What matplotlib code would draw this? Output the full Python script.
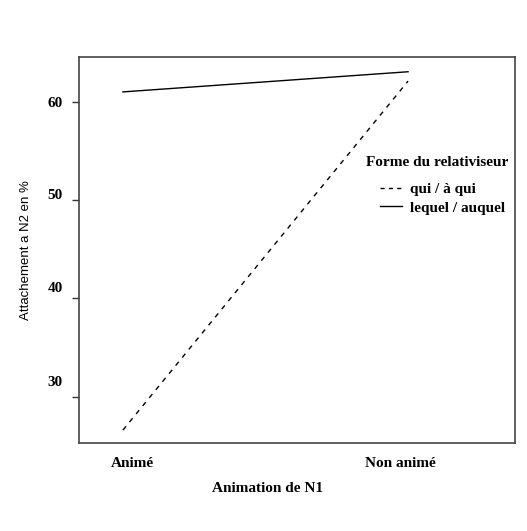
import matplotlib
matplotlib.use('Agg')
import matplotlib.pyplot as plt
import matplotlib.transforms as mtransforms
from matplotlib.lines import Line2D

# data
categories = ['Animé', 'Non animé']
qui = [26.6, 62.1]
lequel = [61.0, 63.05]
yticks = [30, 40, 50, 60]

serif = 'Liberation Serif'
W, H = 527, 531

fig = plt.figure(figsize=(W / 100, H / 100), dpi=100)
ax = fig.add_axes([79/W, 1 - 443/H, 436/W, 386/H])

x = [1, 2]
ax.plot(x, qui, color='black', linestyle=(0, (3.5, 4)), linewidth=1.0)
ax.plot(x, lequel, color='black', linestyle='-', linewidth=1.0)

ax.set_xlim(0.846, 2.375)
ax.set_ylim(25.29, 64.55)

ax.set_xticks(x)
ax.set_xticklabels(categories, fontfamily=serif, fontweight='bold', fontsize=11)
ax.tick_params(axis='x', length=0, pad=10)
# labels sit a little off their ticks in the original
for lab, dx in zip(ax.get_xticklabels(), [9, -8]):
    lab.set_transform(lab.get_transform() + mtransforms.ScaledTranslation(dx/100, 0, fig.dpi_scale_trans))

ax.set_yticks(yticks)
ax.set_yticklabels([str(t) for t in yticks], fontfamily=serif, fontweight='bold', fontsize=11)
ax.tick_params(axis='y', length=5, width=1, pad=6.5, color='#333333')
for lab, dy in zip(ax.get_yticklabels(), [16, 11, 6, 0]):
    lab.set_transform(lab.get_transform() + mtransforms.ScaledTranslation(0, dy/100, fig.dpi_scale_trans))

for s in ax.spines.values():
    s.set_color('#444444')
    s.set_linewidth(1.2)

ax.set_xlabel('Animation de N1', fontfamily=serif, fontweight='bold', fontsize=11)
ax.xaxis.set_label_coords((268 - 79) / 436, -(488 - 443) / 386)
ax.xaxis.label.set_va('center')
ax.set_ylabel('Attachement a N2 en %', fontfamily='Liberation Sans', fontsize=9.5)
ax.yaxis.set_label_coords((26 - 79) / 436, 0.5)
ax.yaxis.label.set_va('center')

fig.text(366/W, 1 - 163/H, 'Forme du relativiseur', fontfamily=serif, fontweight='bold',
         fontsize=11, ha='left', va='center')
handles = [Line2D([], [], color='black', linestyle=(0, (3, 3)), linewidth=1.0),
           Line2D([], [], color='black', linestyle='-', linewidth=1.0)]
leg = fig.legend(handles, ['qui / à qui', 'lequel / auquel'],
                 loc='upper left', bbox_to_anchor=(380/W, 1 - 182.5/H), frameon=False,
                 prop={'family': serif, 'weight': 'bold', 'size': 11},
                 handlelength=1.44, handletextpad=0.52, labelspacing=0.32, borderpad=0,
                 borderaxespad=0)

fig.savefig('out.png', dpi=100, facecolor='white')
